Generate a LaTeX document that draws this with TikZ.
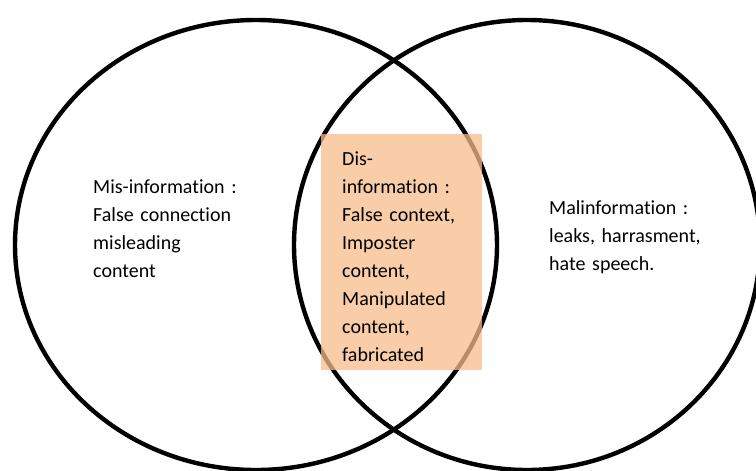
\documentclass[tikz,border=0pt]{standalone}
\usepackage{fontspec}
\setmainfont{Carlito}[Ligatures=NoCommon]
\usetikzlibrary{shapes.geometric}
\definecolor{boxfill}{RGB}{246,188,139}
\begin{document}
\begin{tikzpicture}[x=1pt,y=-1pt,
  ring/.style={draw=black,line width=4.4pt,ellipse,inner sep=0pt},
  hilite/.style={fill=boxfill,fill opacity=0.75,draw=none,inner sep=0pt,anchor=north west},
  lbl/.style={anchor=base west,inner sep=0pt,align=left,text width=200pt,
    font=\fontsize{20}{28}\selectfont}]
\useasboundingbox (0,0) rectangle (756,471);
\node[ring,minimum width=482pt,minimum height=450pt] (mis) at (256,245) {};
\node[ring,minimum width=466pt,minimum height=450pt] (mal) at (527,245) {};
\node[hilite,minimum width=161pt,minimum height=236pt] (dis) at (321,134) {};
\node[lbl] (mistext) at (93,193) {Mis-information :\\False connection\\misleading\\content};
\node[lbl] (distext) at (342,165) {Dis-\\information :\\False context,\\Imposter\\content,\\Manipulated\\content,\\fabricated};
\node[lbl] (maltext) at (549,214) {Malinformation :\\leaks, harrasment,\\hate speech.};
\end{tikzpicture}
\end{document}
